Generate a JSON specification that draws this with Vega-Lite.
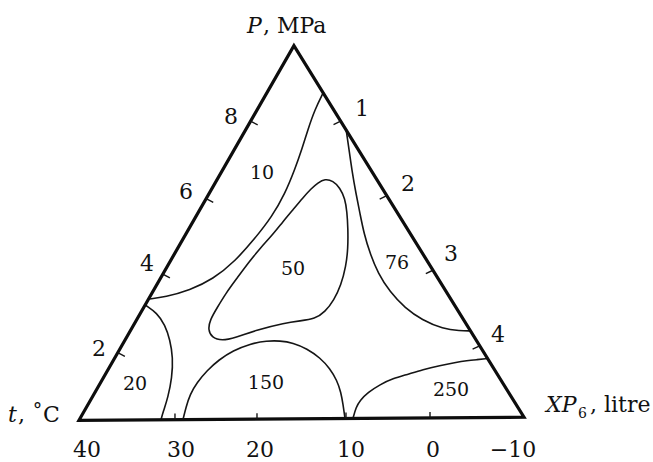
{
  "$schema": "https://vega.github.io/schema/vega-lite/v6.json",
  "autosize": {"type": "fit", "contains": "padding"},
  "width": 653,
  "height": 462,
  "padding": 0,
  "background": "white",
  "config": {"view": {"stroke": null}},
  "datasets": {
    "frame": [
      {"corner": "t", "x": 0, "y": 0},
      {"corner": "P", "x": 48.3, "y": 100},
      {"corner": "XP6", "x": 100, "y": 0.8}
    ],
    "isolines": [
      {"level": "10", "i": 0, "x": 15.7, "y": 32.36},
      {"level": "10", "i": 1, "x": 19.33, "y": 32.89},
      {"level": "10", "i": 2, "x": 24.94, "y": 34.75},
      {"level": "10", "i": 3, "x": 30.11, "y": 37.67},
      {"level": "10", "i": 4, "x": 35.06, "y": 42.44},
      {"level": "10", "i": 5, "x": 39.55, "y": 48.54},
      {"level": "10", "i": 6, "x": 43.37, "y": 54.38},
      {"level": "10", "i": 7, "x": 46.29, "y": 60.48},
      {"level": "10", "i": 8, "x": 48.54, "y": 67.11},
      {"level": "10", "i": 9, "x": 50.11, "y": 72.41},
      {"level": "10", "i": 10, "x": 51.46, "y": 77.72},
      {"level": "10", "i": 11, "x": 53.03, "y": 83.02},
      {"level": "10", "i": 12, "x": 54.8, "y": 87.27},

      {"level": "76", "i": 0, "x": 60.05, "y": 77.45},
      {"level": "76", "i": 1, "x": 60.67, "y": 72.41},
      {"level": "76", "i": 2, "x": 61.35, "y": 66.58},
      {"level": "76", "i": 3, "x": 62.25, "y": 60.48},
      {"level": "76", "i": 4, "x": 63.15, "y": 55.17},
      {"level": "76", "i": 5, "x": 64.04, "y": 49.87},
      {"level": "76", "i": 6, "x": 65.39, "y": 44.56},
      {"level": "76", "i": 7, "x": 67.19, "y": 39.26},
      {"level": "76", "i": 8, "x": 69.89, "y": 34.22},
      {"level": "76", "i": 9, "x": 73.26, "y": 29.97},
      {"level": "76", "i": 10, "x": 77.08, "y": 26.79},
      {"level": "76", "i": 11, "x": 81.8, "y": 24.4},
      {"level": "76", "i": 12, "x": 85.62, "y": 23.87},
      {"level": "76", "i": 13, "x": 87.9, "y": 23.87},

      {"level": "20", "i": 0, "x": 14.9, "y": 30.77},
      {"level": "20", "i": 1, "x": 17.53, "y": 28.65},
      {"level": "20", "i": 2, "x": 19.33, "y": 25.46},
      {"level": "20", "i": 3, "x": 20.45, "y": 21.49},
      {"level": "20", "i": 4, "x": 21.12, "y": 16.71},
      {"level": "20", "i": 5, "x": 20.9, "y": 11.41},
      {"level": "20", "i": 6, "x": 20.0, "y": 6.1},
      {"level": "20", "i": 7, "x": 18.88, "y": 2.12},
      {"level": "20", "i": 8, "x": 18.43, "y": 0.15},

      {"level": "150", "i": 0, "x": 23.37, "y": 0.19},
      {"level": "150", "i": 1, "x": 24.04, "y": 3.45},
      {"level": "150", "i": 2, "x": 24.94, "y": 6.9},
      {"level": "150", "i": 3, "x": 26.52, "y": 10.08},
      {"level": "150", "i": 4, "x": 28.76, "y": 13.26},
      {"level": "150", "i": 5, "x": 31.46, "y": 16.18},
      {"level": "150", "i": 6, "x": 34.61, "y": 18.57},
      {"level": "150", "i": 7, "x": 38.43, "y": 20.42},
      {"level": "150", "i": 8, "x": 42.25, "y": 21.22},
      {"level": "150", "i": 9, "x": 45.17, "y": 21.22},
      {"level": "150", "i": 10, "x": 48.09, "y": 20.69},
      {"level": "150", "i": 11, "x": 51.24, "y": 19.1},
      {"level": "150", "i": 12, "x": 54.16, "y": 16.71},
      {"level": "150", "i": 13, "x": 56.4, "y": 13.79},
      {"level": "150", "i": 14, "x": 57.98, "y": 10.61},
      {"level": "150", "i": 15, "x": 58.88, "y": 7.43},
      {"level": "150", "i": 16, "x": 59.33, "y": 4.24},
      {"level": "150", "i": 17, "x": 59.78, "y": 0.48},

      {"level": "250", "i": 0, "x": 61.57, "y": 0.5},
      {"level": "250", "i": 1, "x": 62.25, "y": 3.45},
      {"level": "250", "i": 2, "x": 63.15, "y": 5.31},
      {"level": "250", "i": 3, "x": 64.94, "y": 7.43},
      {"level": "250", "i": 4, "x": 67.64, "y": 9.55},
      {"level": "250", "i": 5, "x": 70.56, "y": 11.14},
      {"level": "250", "i": 6, "x": 73.71, "y": 12.2},
      {"level": "250", "i": 7, "x": 77.3, "y": 13.53},
      {"level": "250", "i": 8, "x": 81.12, "y": 14.59},
      {"level": "250", "i": 9, "x": 84.49, "y": 15.38},
      {"level": "250", "i": 10, "x": 87.19, "y": 15.92},
      {"level": "250", "i": 11, "x": 89.44, "y": 16.18},
      {"level": "250", "i": 12, "x": 91.7, "y": 16.45}
    ],
    "loop50": [
      {"i": 0, "x": 55.28, "y": 64.46},
      {"i": 1, "x": 57.08, "y": 63.93},
      {"i": 2, "x": 58.65, "y": 62.07},
      {"i": 3, "x": 59.78, "y": 59.15},
      {"i": 4, "x": 60.22, "y": 55.7},
      {"i": 5, "x": 60.45, "y": 51.19},
      {"i": 6, "x": 60.45, "y": 45.89},
      {"i": 7, "x": 60.0, "y": 41.11},
      {"i": 8, "x": 58.88, "y": 36.07},
      {"i": 9, "x": 57.3, "y": 32.1},
      {"i": 10, "x": 55.28, "y": 28.91},
      {"i": 11, "x": 53.03, "y": 27.06},
      {"i": 12, "x": 49.66, "y": 26.53},
      {"i": 13, "x": 46.29, "y": 25.99},
      {"i": 14, "x": 40.0, "y": 24.14},
      {"i": 15, "x": 35.06, "y": 22.02},
      {"i": 16, "x": 32.13, "y": 21.22},
      {"i": 17, "x": 29.89, "y": 22.02},
      {"i": 18, "x": 28.99, "y": 24.14},
      {"i": 19, "x": 29.44, "y": 26.79},
      {"i": 20, "x": 31.01, "y": 29.97},
      {"i": 21, "x": 33.03, "y": 33.95},
      {"i": 22, "x": 35.51, "y": 37.93},
      {"i": 23, "x": 37.98, "y": 41.91},
      {"i": 24, "x": 40.67, "y": 45.89},
      {"i": 25, "x": 43.37, "y": 49.34},
      {"i": 26, "x": 45.84, "y": 53.05},
      {"i": 27, "x": 48.09, "y": 56.23},
      {"i": 28, "x": 50.34, "y": 59.42},
      {"i": 29, "x": 52.13, "y": 61.8},
      {"i": 30, "x": 53.71, "y": 63.4}
    ],
    "ticks": [
      {"scale": "t", "value": 30, "x": 21.57, "y": 0.17, "x2": 21.57, "y2": 1.8},
      {"scale": "t", "value": 20, "x": 40.0, "y": 0.32, "x2": 40.0, "y2": 1.9},
      {"scale": "t", "value": 10, "x": 60.0, "y": 0.48, "x2": 60.0, "y2": 2.1},
      {"scale": "t", "value": 0, "x": 78.88, "y": 0.63, "x2": 78.88, "y2": 2.2},
      {"scale": "P", "value": 8, "x": 38.56, "y": 79.84, "x2": 40.16, "y2": 78.84},
      {"scale": "P", "value": 6, "x": 28.57, "y": 59.15, "x2": 30.17, "y2": 58.15},
      {"scale": "P", "value": 4, "x": 18.83, "y": 38.99, "x2": 20.43, "y2": 37.99},
      {"scale": "P", "value": 2, "x": 8.71, "y": 18.04, "x2": 10.31, "y2": 17.04},
      {"scale": "XP6", "value": 1, "x": 58.8, "y": 79.84, "x2": 57.2, "y2": 78.94},
      {"scale": "XP6", "value": 2, "x": 69.17, "y": 59.95, "x2": 67.57, "y2": 59.05},
      {"scale": "XP6", "value": 3, "x": 79.54, "y": 40.05, "x2": 77.94, "y2": 39.15},
      {"scale": "XP6", "value": 4, "x": 90.05, "y": 19.89, "x2": 88.45, "y2": 18.99}
    ],
    "scaleLabels": [
      {"scale": "t", "text": "40", "x": 1.8, "y": -9.81},
      {"scale": "t", "text": "30", "x": 22.92, "y": -9.81},
      {"scale": "t", "text": "20", "x": 40.67, "y": -9.81},
      {"scale": "t", "text": "10", "x": 61.12, "y": -9.81},
      {"scale": "t", "text": "0", "x": 79.55, "y": -9.81},
      {"scale": "t", "text": "−10", "x": 97.53, "y": -9.81},
      {"scale": "P", "text": "8", "x": 34.16, "y": 79.05},
      {"scale": "P", "text": "6", "x": 24.04, "y": 59.15},
      {"scale": "P", "text": "4", "x": 15.28, "y": 39.79},
      {"scale": "P", "text": "2", "x": 4.49, "y": 17.24},
      {"scale": "XP6", "text": "1", "x": 63.6, "y": 81.17},
      {"scale": "XP6", "text": "2", "x": 73.93, "y": 61.27},
      {"scale": "XP6", "text": "3", "x": 83.6, "y": 42.44},
      {"scale": "XP6", "text": "4", "x": 94.16, "y": 20.95}
    ],
    "isolineLabels": [
      {"text": "10", "x": 41.12, "y": 66.05},
      {"text": "50", "x": 48.09, "y": 40.32},
      {"text": "76", "x": 71.46, "y": 41.91},
      {"text": "20", "x": 12.58, "y": 9.81},
      {"text": "150", "x": 42.02, "y": 10.08},
      {"text": "250", "x": 83.6, "y": 7.96}
    ],
    "titleSymbols": [
      {"text": "P", "x": 37.75, "y": 103.45},
      {"text": "t", "x": -15.96, "y": -0.53},
      {"text": "XP", "x": 104.94, "y": 2.12}
    ],
    "titleUnits": [
      {"text": ", MPa", "x": 41.35, "y": 103.45},
      {"text": ",  ˚C", "x": -13.7, "y": -0.53},
      {"text": ", litre", "x": 114.83, "y": 2.12}
    ],
    "titleSubscripts": [
      {"text": "6", "x": 112.13, "y": 0.53}
    ]
  },
  "encoding": {
    "x": {"field": "x", "type": "quantitative", "axis": null,
          "scale": {"domain": [-17.75, 128.99], "nice": false, "zero": false}},
    "y": {"field": "y", "type": "quantitative", "axis": null,
          "scale": {"domain": [-10.34, 112.2], "nice": false, "zero": false}}
  },
  "layer": [
    {
      "data": {"name": "isolines"},
      "mark": {"type": "line", "interpolate": "basis", "color": "#151515", "strokeWidth": 1.6},
      "encoding": {"detail": {"field": "level"}, "order": {"field": "i", "type": "quantitative"}}
    },
    {
      "data": {"name": "loop50"},
      "mark": {"type": "line", "interpolate": "basis-closed", "color": "#151515", "strokeWidth": 1.6},
      "encoding": {"order": {"field": "i", "type": "quantitative"}}
    },
    {
      "data": {"name": "frame"},
      "mark": {"type": "line", "interpolate": "linear-closed", "color": "#0d0d0d", "strokeWidth": 3.2, "strokeJoin": "miter"},
      "encoding": {}
    },
    {
      "data": {"name": "ticks"},
      "mark": {"type": "rule", "color": "#151515", "strokeWidth": 1.4},
      "encoding": {
        "x2": {"field": "x2"},
        "y2": {"field": "y2"}
      }
    },
    {
      "data": {"name": "scaleLabels"},
      "mark": {"type": "text", "font": "DejaVu Serif", "fontSize": 22, "align": "center", "baseline": "alphabetic", "color": "#111"},
      "encoding": {"text": {"field": "text"}}
    },
    {
      "data": {"name": "isolineLabels"},
      "mark": {"type": "text", "font": "DejaVu Serif", "fontSize": 19, "align": "center", "baseline": "middle", "color": "#111"},
      "encoding": {"text": {"field": "text"}}
    },
    {
      "data": {"name": "titleSymbols"},
      "mark": {"type": "text", "font": "DejaVu Serif", "fontSize": 22, "fontStyle": "italic", "align": "left", "baseline": "alphabetic", "color": "#111"},
      "encoding": {"text": {"field": "text"}}
    },
    {
      "data": {"name": "titleUnits"},
      "mark": {"type": "text", "font": "DejaVu Serif", "fontSize": 22, "align": "left", "baseline": "alphabetic", "color": "#111"},
      "encoding": {"text": {"field": "text"}}
    },
    {
      "data": {"name": "titleSubscripts"},
      "mark": {"type": "text", "font": "DejaVu Serif", "fontSize": 14, "align": "left", "baseline": "alphabetic", "color": "#111"},
      "encoding": {"text": {"field": "text"}}
    }
  ]
}
